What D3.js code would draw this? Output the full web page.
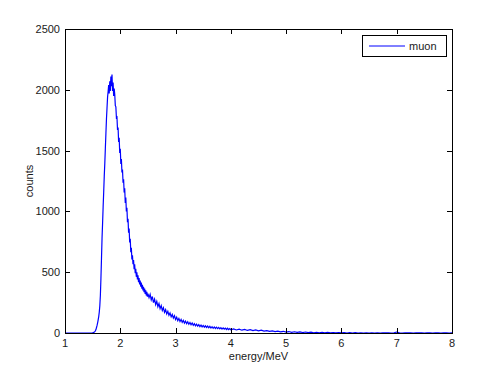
<!DOCTYPE html>
<html><head><meta charset="utf-8">
<script src="https://cdn.jsdelivr.net/npm/d3@7"></script>
<style>body{margin:0;background:#fff}svg{display:block}text{font-family:"Liberation Sans",Arial,sans-serif}</style>
</head><body><div id="c"></div>
<script>
const xTicks = [1,2,3,4,5,6,7,8];
const yTicks = [0,500,1000,1500,2000,2500];
const seriesName = "muon";
// leading zeros (energy 1.00 .. 1.45, step 0.05)
const countsLead = [0,0,0,0,0,0,0,0,0,0];
// energy 1.50 .. 2.50, step 0.01
const countsFine = [1,3,4,8,11,19,28,45,62,84,108,135,172,225,310,450,610,780,905,1040,1160,1290,1395,1520,1640,1760,1850,1940,1985,2040,1970,2070,1990,2110,2030,2125,1990,2060,1950,2010,
1960,1870,1860,1770,1775,1670,1690,1570,1605,1480,1515,1390,1430,1320,1345,1235,1265,1155,1190,1070,1115,1000,1030,910,940,825,860,745,775,665,700,605,640,565,600,525,565,492,528,462,500,440,474,418,452,400,432,380,414,364,396,350,380,336,366,322,352,308,338,298,324];
// energy 2.52 .. 4.00, step 0.02
const countsMid = [290,318,272,300,250,278,233,260,216,242,200,225,185,208,170,192,157,178,145,165,133,153,123,142,110,130,102,120,95,112,88,104,82,98,77,92,72,86,67,82,63,77,59,73,56,69,53,65,50,62,48,59,46,57,43,55,41,52,39,50,37,48,36,46,34,44,32,42,31,40,29,39,28,37,27];
// energy 4.05 .. 8.00, step 0.05
const countsTail = [33,25,31,23,29,21,27,19,25,17,23,15,20,13,18,11,16,9,14,7,12,6,10,5,9,4,8,3,7,2,6,2,5,1,5,1,4,1,4,1,3,0,3,0,3,0,2,0,2,0,2,0,2,0,2,1,1,0,2,8,1,0,2,1,1,0,2,1,1,0,1,1,0,1,1,0,1,1,0,1];

const segs = [[1.00,0.05,countsLead],[1.50,0.01,countsFine],[2.52,0.02,countsMid],[4.05,0.05,countsTail]];
const data = [];
segs.forEach(([s,st,arr]) => arr.forEach((v,i) => data.push([+(s+i*st).toFixed(3), v])));

const W=498,H=374, L=65,R=452,T=29,B=333;
const svg = d3.select("#c").append("svg").attr("width",W).attr("height",H);
const x = d3.scaleLinear().domain([1,8]).range([L,R]);
const y = d3.scaleLinear().domain([0,2500]).range([B,T]);

svg.append("clipPath").attr("id","cl").append("rect").attr("x",L).attr("y",T).attr("width",R-L).attr("height",B-T);

svg.append("path").datum(data)
  .attr("clip-path","url(#cl)")
  .attr("fill","none").attr("stroke","#0000ff").attr("stroke-width",1.2)
  .attr("d", d3.line().x(d=>x(d[0])).y(d=>y(d[1])));

const tk = 5;
const ax = svg.append("g").attr("fill","none").attr("stroke","#000").attr("stroke-width",1).attr("shape-rendering","crispEdges");
ax.append("rect").attr("x",L).attr("y",T).attr("width",R-L).attr("height",B-T);
xTicks.forEach(t=>{
  const px=Math.round(x(t))+0.5;
  ax.append("line").attr("x1",px).attr("x2",px).attr("y1",B).attr("y2",B-tk);
  ax.append("line").attr("x1",px).attr("x2",px).attr("y1",T).attr("y2",T+tk);
});
yTicks.forEach(t=>{
  const py=Math.round(y(t))+0.5;
  ax.append("line").attr("x1",L).attr("x2",L+tk).attr("y1",py).attr("y2",py);
  ax.append("line").attr("x1",R).attr("x2",R-tk).attr("y1",py).attr("y2",py);
});

const lab = svg.append("g").attr("font-size",11).attr("fill","#1a1a1a");
xTicks.forEach(t=>lab.append("text").attr("x",x(t)).attr("y",B+14).attr("text-anchor","middle").text(t));
yTicks.forEach(t=>lab.append("text").attr("x",L-5).attr("y",y(t)+4).attr("text-anchor","end").text(t));
lab.append("text").attr("x",(L+R)/2).attr("y",B+27).attr("text-anchor","middle").text("energy/MeV");
lab.append("text").attr("transform",`translate(${L-32},${(T+B)/2}) rotate(-90)`).attr("text-anchor","middle").text("counts");

// legend
const lg = svg.append("g");
lg.append("rect").attr("x",362.5).attr("y",35.5).attr("width",84).attr("height",21).attr("fill","#fff").attr("stroke","#000").attr("shape-rendering","crispEdges");
lg.append("line").attr("x1",369).attr("x2",405).attr("y1",46).attr("y2",46).attr("stroke","#0000ff").attr("stroke-width",1);
lg.append("text").attr("x",409).attr("y",50).attr("font-size",11).attr("fill","#1a1a1a").text(seriesName);
</script></body></html>
